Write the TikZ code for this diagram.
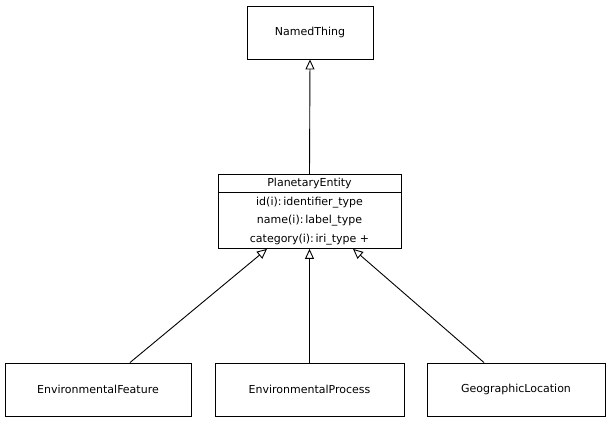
\documentclass[tikz,border=0pt]{standalone}
\usepackage{fontspec}
\setmainfont{DejaVu Sans}
\usetikzlibrary{arrows.meta,shapes.multipart}

\tikzset{
  classbox/.style={draw, line width=0.9pt, minimum width=#1, minimum height=53pt},
  isa/.style={-{Triangle[open,length=10pt,width=9pt]}, line width=0.9pt},
}

\begin{document}
\begin{tikzpicture}[x=1pt, y=-1pt, font=\fontsize{11}{18.5}\selectfont]
  \useasboundingbox (0,0) rectangle (608,423);
  \node (named) [classbox=126pt] at (310,32.5) {NamedThing};
  \node (planet) [draw, line width=0.9pt, rectangle split, rectangle split parts=2,
    minimum width=183pt, inner ysep=3.4pt, align=center, anchor=north] at (309.5,174)
    {PlanetaryEntity
     \nodepart{two} id(i):\,identifier\_type\\name(i):\,label\_type\\category(i):\,iri\_type +};
  \node (feature) [classbox=186pt] at (98,389.5) {EnvironmentalFeature};
  \node (process) [classbox=189pt] at (309.5,389.5) {EnvironmentalProcess};
  \node (location) [classbox=178pt] at (516,389.5) {GeographicLocation};
  \draw[isa] (planet.north) to (named.south);
  \draw[isa] ([xshift=32pt]feature.north) to ([xshift=-42.5pt]planet.south);
  \draw[isa] (process.north) to (planet.south);
  \draw[isa] ([xshift=-32pt]location.north) to ([xshift=43.5pt]planet.south);
\end{tikzpicture}
\end{document}
